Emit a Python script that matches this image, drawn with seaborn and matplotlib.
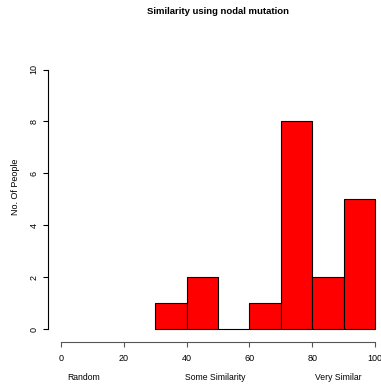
import matplotlib
matplotlib.use("Agg")
import matplotlib.pyplot as plt
import seaborn as sns
import numpy as np

# Data
bin_edges = [30, 40, 50, 60, 70, 80, 90, 100]
counts = [1, 2, 0, 1, 8, 2, 5]
x_ticks = [0, 20, 40, 60, 80, 100]
y_ticks = [0, 2, 4, 6, 8, 10]
region_labels = ["Random", "Some Similarity", "Very Similar"]

sns.set_style("white")
plt.rcParams['font.family'] = ['Liberation Sans', 'DejaVu Sans']
plt.rcParams['text.color'] = 'black'
plt.rcParams['axes.labelcolor'] = 'black'

W, H = 381, 385
fig = plt.figure(figsize=(W / 100, H / 100), dpi=100)
ax = fig.add_axes([61 / W, 56 / H, (375 - 61) / W, (329 - 69.5) / H])

mids = [(bin_edges[i] + bin_edges[i + 1]) / 2 for i in range(len(counts))]
sns.histplot(x=mids, weights=counts, bins=bin_edges, ax=ax,
             color="#FF0000", alpha=1, edgecolor="black", linewidth=0.8, clip_on=False)

ax.set_xlim(0, 100)
ax.set_ylim(0, 10)
for s in ["top", "right"]:
    ax.spines[s].set_visible(False)
ax.spines["left"].set_position(("outward", 9.4))
ax.spines["bottom"].set_position(("outward", 9.4))
ax.spines["left"].set_bounds(0, 10)
ax.spines["bottom"].set_bounds(0, 100)
ax.spines["left"].set_color("black")
ax.spines["bottom"].set_color("#555555")
ax.spines["left"].set_linewidth(0.8)
ax.spines["bottom"].set_linewidth(0.8)

ax.set_xticks(x_ticks)
ax.set_yticks(y_ticks)
ax.tick_params(axis="both", which="both", bottom=True, left=True, length=3.6, width=0.8,
               direction="out", labelsize=6.5, colors="black")
ax.tick_params(axis="x", color="#555555", pad=5)
ax.tick_params(axis="y", pad=3.3)
plt.setp(ax.get_yticklabels(), rotation=90, va="center")
for lbl in ax.get_xticklabels():
    lbl.set_clip_on(False)

ax.set_xlabel("")
ax.set_ylabel("")
fig.text(15 / W, 1 - 187 / H, "No. Of People", rotation=90, ha="center", va="center",
         fontsize=6.5)

fig.text(218 / W, 1 - 12 / H, "Similarity using nodal mutation", ha="center", va="center",
         fontsize=6.8, fontweight="bold")

xs_px = [84, 215, 338]
for lab, xp in zip(region_labels, xs_px):
    fig.text(xp / W, 1 - 378 / H, lab, ha="center", va="center", fontsize=6.2)

fig.savefig("out.png", dpi=100)
